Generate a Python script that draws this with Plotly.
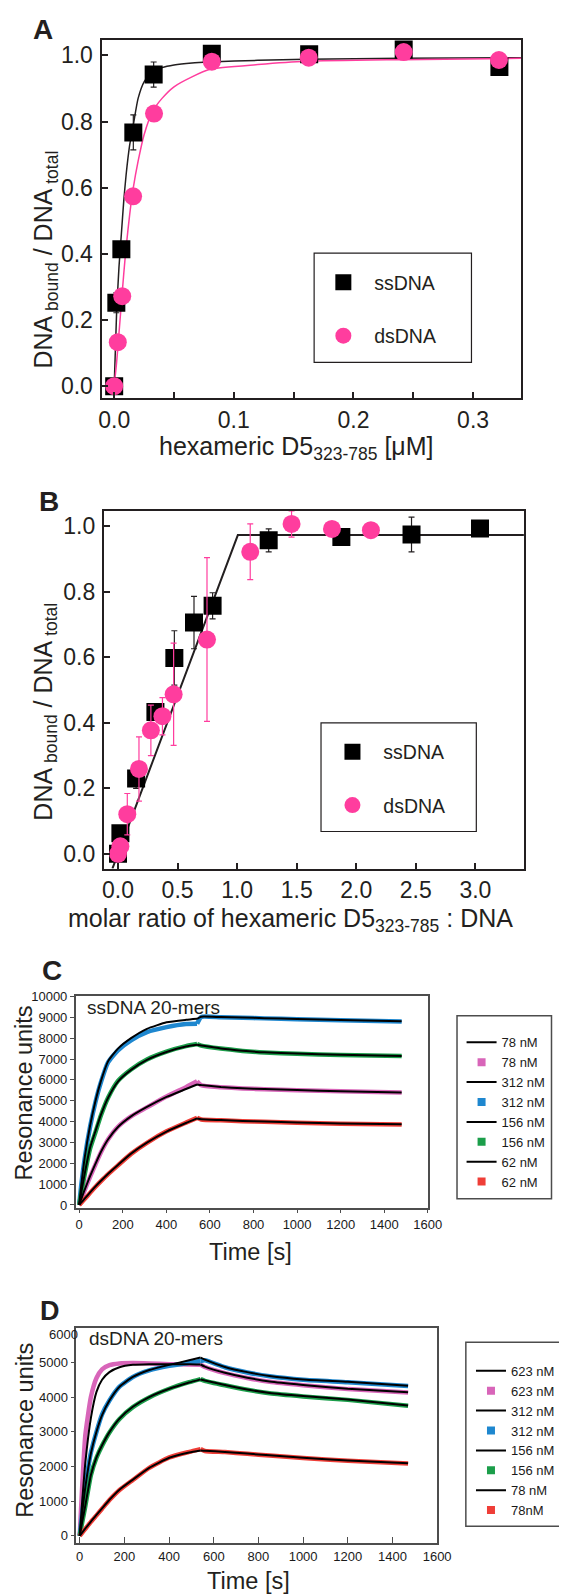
import plotly.graph_objects as go

W, H = 567, 1595

# ---------------- Panel A : hexameric D5 titration ----------------
a_ss_x = [0.0, 0.0018, 0.006, 0.016, 0.033, 0.0816, 0.163, 0.242, 0.322]
a_ss_y = [0.0, 0.252, 0.414, 0.767, 0.942, 1.005, 1.003, 1.018, 0.965]
a_ss_err = [0.0, 0.03, 0.0, 0.053, 0.038, 0.0, 0.0, 0.0, 0.0]
a_ds_x = [0.0, 0.003, 0.0067, 0.0158, 0.0333, 0.0816, 0.1626, 0.242, 0.3216]
a_ds_y = [0.0, 0.133, 0.272, 0.574, 0.824, 0.981, 0.993, 1.010, 0.986]
a_fit_x = [0, 0.002, 0.004, 0.006, 0.008, 0.010, 0.013, 0.016, 0.020, 0.025,
           0.032, 0.040, 0.050, 0.065, 0.080, 0.120, 0.160, 0.240, 0.340]
a_ss_fit_y = [0, 0.22, 0.36, 0.46, 0.56, 0.64, 0.73, 0.79, 0.87, 0.92,
              0.95, 0.963, 0.971, 0.977, 0.980, 0.985, 0.988, 0.991, 0.993]
a_ds_fit_y = [0, 0.07, 0.16, 0.25, 0.34, 0.42, 0.52, 0.60, 0.68, 0.76,
              0.83, 0.87, 0.905, 0.935, 0.958, 0.972, 0.982, 0.987, 0.991]

# ---------------- Panel B : molar ratio ----------------
b_ss_x = [0.0, 0.02, 0.152, 0.314, 0.473, 0.638, 0.794, 1.265, 1.875, 2.464, 3.039]
b_ss_y = [0.0, 0.063, 0.230, 0.433, 0.598, 0.706, 0.757, 0.957, 0.967, 0.975, 0.993]
b_ss_err = [0.0, 0.0, 0.03, 0.02, 0.083, 0.08, 0.04, 0.035, 0.01, 0.053, 0.0]
b_ds_x = [0.0, 0.02, 0.078, 0.176, 0.276, 0.373, 0.467, 0.747, 1.11, 1.457, 1.796, 2.123]
b_ds_y = [0.0, 0.023, 0.121, 0.259, 0.377, 0.420, 0.487, 0.654, 0.922, 1.007, 0.992, 0.988]
b_ds_err = [0.0, 0.0, 0.063, 0.098, 0.077, 0.057, 0.156, 0.25, 0.085, 0.04, 0.0, 0.0]
b_fit_x = [-0.047, 1.006, 3.41]
b_fit_y = [-0.045, 0.973, 0.973]

# ---------------- Panel C : ssDNA 20-mers SPR ----------------
c_t_assoc = [0, 10, 25, 50, 75, 100, 133, 178, 238, 311, 401, 490, 541]
c_t_dissoc = [560, 650, 750, 850, 1000, 1200, 1480]
c_labels = ["78 nM", "312 nM", "156 nM", "62 nM"]
c_data_assoc = {
    "78 nM": [0, 290, 700, 1350, 1950, 2530, 3150, 3750, 4250, 4680, 5200, 5650, 5930],
    "312 nM": [0, 1000, 2200, 3750, 4950, 5900, 6850, 7420, 7900, 8290, 8530, 8680, 8690],
    "156 nM": [0, 600, 1450, 2700, 3500, 4300, 5150, 5950, 6500, 6980, 7360, 7620, 7720],
    "62 nM": [0, 110, 280, 580, 870, 1140, 1480, 1900, 2450, 2980, 3530, 3950, 4180],
}
c_data_dissoc = {
    "78 nM": [5740, 5650, 5590, 5550, 5500, 5450, 5390],
    "312 nM": [9020, 9000, 8980, 8950, 8910, 8860, 8800],
    "156 nM": [7640, 7500, 7390, 7310, 7250, 7190, 7140],
    "62 nM": [4100, 4060, 4020, 3990, 3940, 3900, 3860],
}
c_fit_assoc = {
    "78 nM": [0, 300, 720, 1380, 1980, 2550, 3150, 3740, 4250, 4700, 5180, 5560, 5780],
    "312 nM": [0, 1000, 2250, 3800, 5000, 5950, 6900, 7500, 8000, 8450, 8760, 8880, 8930],
    "156 nM": [0, 620, 1480, 2750, 3550, 4330, 5150, 5920, 6480, 6960, 7340, 7600, 7680],
    "62 nM": [0, 120, 300, 600, 890, 1160, 1500, 1920, 2460, 2990, 3520, 3930, 4150],
}
c_fit_dissoc = {
    "78 nM": [5750, 5660, 5600, 5560, 5510, 5460, 5400],
    "312 nM": [9030, 9010, 8990, 8960, 8920, 8870, 8810],
    "156 nM": [7650, 7510, 7400, 7320, 7260, 7200, 7150],
    "62 nM": [4110, 4070, 4030, 4000, 3950, 3910, 3870],
}
c_colors = {"78 nM": "#D865B9", "312 nM": "#1E87CF", "156 nM": "#1B9E4A", "62 nM": "#EF3E37"}
c_yticks = [0, 1000, 2000, 3000, 4000, 5000, 6000, 7000, 8000, 9000, 10000]
time_ticks = [0, 200, 400, 600, 800, 1000, 1200, 1400, 1600]

# ---------------- Panel D : dsDNA 20-mers SPR ----------------
d_t_assoc = [0, 10, 25, 50, 75, 100, 133, 178, 238, 311, 401, 490, 541]
d_t_dissoc = [560, 650, 750, 850, 1000, 1200, 1470]
d_labels = ["623 nM", "312 nM", "156 nM", "78 nM"]
d_legend_data_names = {"623 nM": "623 nM", "312 nM": "312 nM", "156 nM": "156 nM", "78 nM": "78nM"}
d_data_assoc = {
    "623 nM": [0, 1300, 2900, 4000, 4550, 4800, 4920, 4970, 4980, 4970, 4950, 4940, 4930],
    "312 nM": [0, 600, 1400, 2400, 3000, 3500, 3900, 4300, 4580, 4770, 4900, 4990, 5040],
    "156 nM": [0, 350, 850, 1750, 2250, 2600, 2980, 3370, 3710, 3990, 4240, 4430, 4520],
    "78 nM": [0, 80, 200, 400, 590, 780, 1030, 1320, 1610, 1960, 2260, 2420, 2500],
}
d_data_dissoc = {
    "623 nM": [4870, 4690, 4550, 4440, 4340, 4230, 4130],
    "312 nM": [5060, 4860, 4710, 4600, 4500, 4430, 4320],
    "156 nM": [4470, 4340, 4210, 4110, 4020, 3920, 3750],
    "78 nM": [2445, 2415, 2365, 2315, 2245, 2165, 2085],
}
d_fit_assoc = {
    "623 nM": [0, 900, 2100, 3400, 4150, 4500, 4720, 4860, 4930, 4950, 4950, 4950, 4940],
    "312 nM": [0, 600, 1400, 2380, 3000, 3480, 3900, 4300, 4580, 4780, 4930, 5060, 5140],
    "156 nM": [0, 360, 870, 1750, 2260, 2610, 2990, 3380, 3720, 4000, 4240, 4420, 4510],
    "78 nM": [0, 85, 210, 410, 600, 790, 1040, 1330, 1620, 1960, 2250, 2400, 2460],
}
d_fit_dissoc = {
    "623 nM": [4880, 4700, 4560, 4450, 4350, 4240, 4140],
    "312 nM": [5080, 4870, 4720, 4610, 4510, 4440, 4330],
    "156 nM": [4480, 4350, 4220, 4120, 4030, 3930, 3760],
    "78 nM": [2450, 2420, 2370, 2320, 2250, 2170, 2090],
}
d_colors = {"623 nM": "#D865B9", "312 nM": "#1E87CF", "156 nM": "#1B9E4A", "78 nM": "#EF3E37"}
d_yticks = [0, 1000, 2000, 3000, 4000, 5000]
d_top_label = "6000"

# ---------------- styling ----------------
FONT = "Liberation Sans, Arial, Helvetica, sans-serif"
DARK = "#231f20"
PINK = "#FF3D9E"
GRAY = "#4d4d4d"
NB = "\u00a0\u00a0"


def X(px):
    return px / W


def Y(py):
    return 1 - py / H


fig = go.Figure()

# Panel A
fig.add_trace(go.Scatter(x=a_fit_x, y=a_ss_fit_y, mode="lines", line=dict(color=DARK, width=1.5, shape="spline", smoothing=0.6),
                         xaxis="x", yaxis="y", showlegend=False, hoverinfo="skip"))
fig.add_trace(go.Scatter(x=a_fit_x, y=a_ds_fit_y, mode="lines", line=dict(color=PINK, width=1.5, shape="spline", smoothing=0.6),
                         xaxis="x", yaxis="y", showlegend=False, hoverinfo="skip"))
fig.add_trace(go.Scatter(x=a_ss_x, y=a_ss_y, mode="markers", name=NB + "ssDNA", legend="legend", legendgroup="a1",
                         marker=dict(symbol="square", size=18, color="black"),
                         error_y=dict(type="data", array=a_ss_err, color=DARK, thickness=1.2, width=3),
                         xaxis="x", yaxis="y"))
fig.add_trace(go.Scatter(x=a_ds_x, y=a_ds_y, mode="markers", name=NB + "dsDNA", legend="legend", legendgroup="a2",
                         marker=dict(symbol="circle", size=18, color=PINK),
                         xaxis="x", yaxis="y"))

# Panel B
fig.add_trace(go.Scatter(x=b_fit_x, y=b_fit_y, mode="lines", line=dict(color=DARK, width=2),
                         xaxis="x2", yaxis="y2", showlegend=False, hoverinfo="skip"))
fig.add_trace(go.Scatter(x=b_ss_x, y=b_ss_y, mode="markers", name=NB + "ssDNA", legend="legend2", legendgroup="b1",
                         marker=dict(symbol="square", size=18, color="black"),
                         error_y=dict(type="data", array=b_ss_err, color=DARK, thickness=1.2, width=3),
                         xaxis="x2", yaxis="y2"))
fig.add_trace(go.Scatter(x=b_ds_x, y=b_ds_y, mode="markers", name=NB + "dsDNA", legend="legend2", legendgroup="b2",
                         marker=dict(symbol="circle", size=18, color=PINK),
                         error_y=dict(type="data", array=b_ds_err, color=PINK, thickness=1.2, width=3),
                         xaxis="x2", yaxis="y2"))


def spr_panel(xa, ya, leg, labels, t_as, t_dis, data_as, data_dis, fit_as, fit_dis, colors, data_names):
    # coloured raw data underneath
    for lab in labels:
        c = colors[lab]
        fig.add_trace(go.Scatter(x=t_as, y=data_as[lab], mode="lines",
                                 line=dict(color=c, width=4.5, shape="spline", smoothing=0.5),
                                 xaxis=xa, yaxis=ya, showlegend=False, hoverinfo="skip"))
        fig.add_trace(go.Scatter(x=[t_as[-1]] + t_dis, y=[data_as[lab][-1]] + data_dis[lab], mode="lines",
                                 line=dict(color=c, width=4.5, shape="spline", smoothing=0.5),
                                 xaxis=xa, yaxis=ya, showlegend=False, hoverinfo="skip"))
    # black fits + legend entries
    for lab in labels:
        fig.add_trace(go.Scatter(x=t_as, y=fit_as[lab], mode="lines", name=lab, legend=leg,
                                 line=dict(color="black", width=2, shape="spline", smoothing=0.5),
                                 xaxis=xa, yaxis=ya, hoverinfo="skip"))
        fig.add_trace(go.Scatter(x=[t_as[-1]] + t_dis, y=[fit_as[lab][-1]] + fit_dis[lab], mode="lines",
                                 line=dict(color="black", width=2, shape="spline", smoothing=0.5),
                                 xaxis=xa, yaxis=ya, showlegend=False, hoverinfo="skip"))
        fig.add_trace(go.Scatter(x=[None], y=[None], mode="markers", name=data_names[lab], legend=leg,
                                 marker=dict(symbol="square", size=8, color=colors[lab]),
                                 xaxis=xa, yaxis=ya, hoverinfo="skip"))


spr_panel("x3", "y3", "legend3", c_labels, c_t_assoc, c_t_dissoc, c_data_assoc, c_data_dissoc,
          c_fit_assoc, c_fit_dissoc, c_colors, {k: k for k in c_labels})
spr_panel("x4", "y4", "legend4", d_labels, d_t_assoc, d_t_dissoc, d_data_assoc, d_data_dissoc,
          d_fit_assoc, d_fit_dissoc, d_colors, d_legend_data_names)

axAB = dict(showline=True, linecolor=DARK, linewidth=2, mirror=True, ticks="inside", ticklen=6, tickwidth=1.5,
            tickcolor=DARK, showgrid=False, zeroline=False, tickfont=dict(size=23, family=FONT, color=DARK))
axCD = dict(showline=True, linecolor=GRAY, linewidth=1.5, mirror=True, ticks="outside", ticklen=4, tickwidth=1.2,
            tickcolor=GRAY, showgrid=False, zeroline=False, tickformat="d",
            tickfont=dict(size=13, family=FONT, color="#1a1a1a"))

fig.update_layout(
    width=W, height=H, margin=dict(l=0, r=0, t=0, b=0),
    paper_bgcolor="white", plot_bgcolor="white",
    font=dict(family=FONT, color=DARK),
    xaxis=dict(**axAB, domain=[X(93.3), X(525.7)], range=[-0.0106, 0.340], anchor="y",
               tickvals=[0, 0.1, 0.2, 0.3], tickformat=".1f", ticklabelstandoff=0,
               minor=dict(tickvals=[0.05, 0.15, 0.25], ticks="inside", ticklen=6, tickwidth=1.5, tickcolor=DARK)),
    yaxis=dict(**axAB, domain=[Y(386), Y(25)], range=[-0.036, 1.047], anchor="x",
               tickvals=[0, 0.2, 0.4, 0.6, 0.8, 1.0], tickformat=".1f", ticklabelstandoff=2),
    xaxis2=dict(**axAB, domain=[X(95.7), X(528.7)], range=[-0.119, 3.407], anchor="y2",
                tickvals=[0, 0.5, 1.0, 1.5, 2.0, 2.5, 3.0], tickformat=".1f", ticklabelstandoff=0),
    yaxis2=dict(**axAB, domain=[Y(860), Y(499.3)], range=[-0.045, 1.048], anchor="x2",
                tickvals=[0, 0.2, 0.4, 0.6, 0.8, 1.0], tickformat=".1f", ticklabelstandoff=2),
    xaxis3=dict(**axCD, domain=[X(66.7), X(429.7)], range=[-16, 1600], anchor="y3", tickvals=time_ticks),
    yaxis3=dict(**axCD, domain=[Y(1201.7), Y(988.3)], range=[-130, 10030], anchor="x3", tickvals=c_yticks),
    xaxis4=dict(**{**axCD, "ticks": "inside", "ticklen": 7}, domain=[X(67.4), X(439.3)], range=[-15, 1600],
                anchor="y4", tickvals=time_ticks),
    yaxis4=dict(**axCD, domain=[Y(1540), Y(1322.7)], range=[-220, 6000], anchor="x4", tickvals=d_yticks),
    legend=dict(x=X(322), y=Y(250), xanchor="left", yanchor="top", bgcolor="rgba(0,0,0,0)", borderwidth=0,
                font=dict(size=19.5, family=FONT, color=DARK), tracegroupgap=25),
    legend2=dict(x=X(331.4), y=Y(723), xanchor="left", yanchor="top", bgcolor="rgba(0,0,0,0)", borderwidth=0,
                 font=dict(size=19.5, family=FONT, color=DARK), tracegroupgap=25),
    legend3=dict(x=X(464.5), y=Y(1020), xanchor="left", yanchor="top", bgcolor="rgba(0,0,0,0)", borderwidth=0,
                 font=dict(size=13, family=FONT, color="#1a1a1a"), tracegroupgap=0),
    legend4=dict(x=X(474.2), y=Y(1351), xanchor="left", yanchor="top", bgcolor="rgba(0,0,0,0)", borderwidth=0,
                 font=dict(size=13, family=FONT, color="#1a1a1a"), tracegroupgap=0),
)

# legend frames
frames = [
    (312.5, 240, 474.7, 350, DARK, 1.2),
    (319.6, 713.3, 479.7, 822.7, DARK, 1.2),
    (459.8, 1008.3, 557.2, 1192.7, GRAY, 1.5),
    (468.9, 1337.3, 566.0, 1522.7, GRAY, 1.5),
]
for x0, y0, x1, y1, col, lw in frames:
    fig.add_shape(type="rect", xref="paper", yref="paper", x0=X(x0), x1=X(x1), y0=Y(y1), y1=Y(y0),
                  line=dict(color=col, width=lw), fillcolor="rgba(0,0,0,0)", layer="above")

ann = []


def add_text(text, px, py, size, angle=0, xanchor="center", bold=False, color=DARK):
    ann.append(dict(text=f"<b>{text}</b>" if bold else text, x=X(px), y=Y(py), xref="paper", yref="paper",
                    showarrow=False, textangle=angle, xanchor=xanchor, yanchor="middle",
                    font=dict(size=size, family=FONT, color=color)))


add_text("A", 33.3, 15, 28, bold=True)
add_text("B", 39, 490, 28, bold=True)
add_text("C", 42.5, 963, 28, bold=True)
add_text("D", 40, 1306, 27, bold=True)
ytitle = "DNA<sub> bound</sub> / DNA<sub> total</sub>"
add_text(ytitle, 35.5, 246, 25, angle=-90)
add_text(ytitle, 35.5, 701.5, 25, angle=-90)
add_text("hexameric D5<sub>323-785</sub> [μM]", 294.5, 436, 25)
add_text("molar ratio of hexameric D5<sub>323-785</sub> : DNA", 288, 912, 25)
add_text("Resonance units", 13, 1086, 23.5, angle=-90)
add_text("Time [s]", 246.5, 1246.7, 23.5)
add_text("Resonance units", 15, 1426, 23.5, angle=-90)
add_text("Time [s]", 244.6, 1578.3, 23.5)
add_text("ssDNA 20-mers", 76.5, 1000, 19, xanchor="left")
add_text("dsDNA 20-mers", 78.3, 1334, 19, xanchor="left")
add_text(d_top_label, 71, 1330, 13, xanchor="right", color="#1a1a1a")
fig.update_layout(annotations=ann)

fig.write_html("out.html", config={"displayModeBar": False})
